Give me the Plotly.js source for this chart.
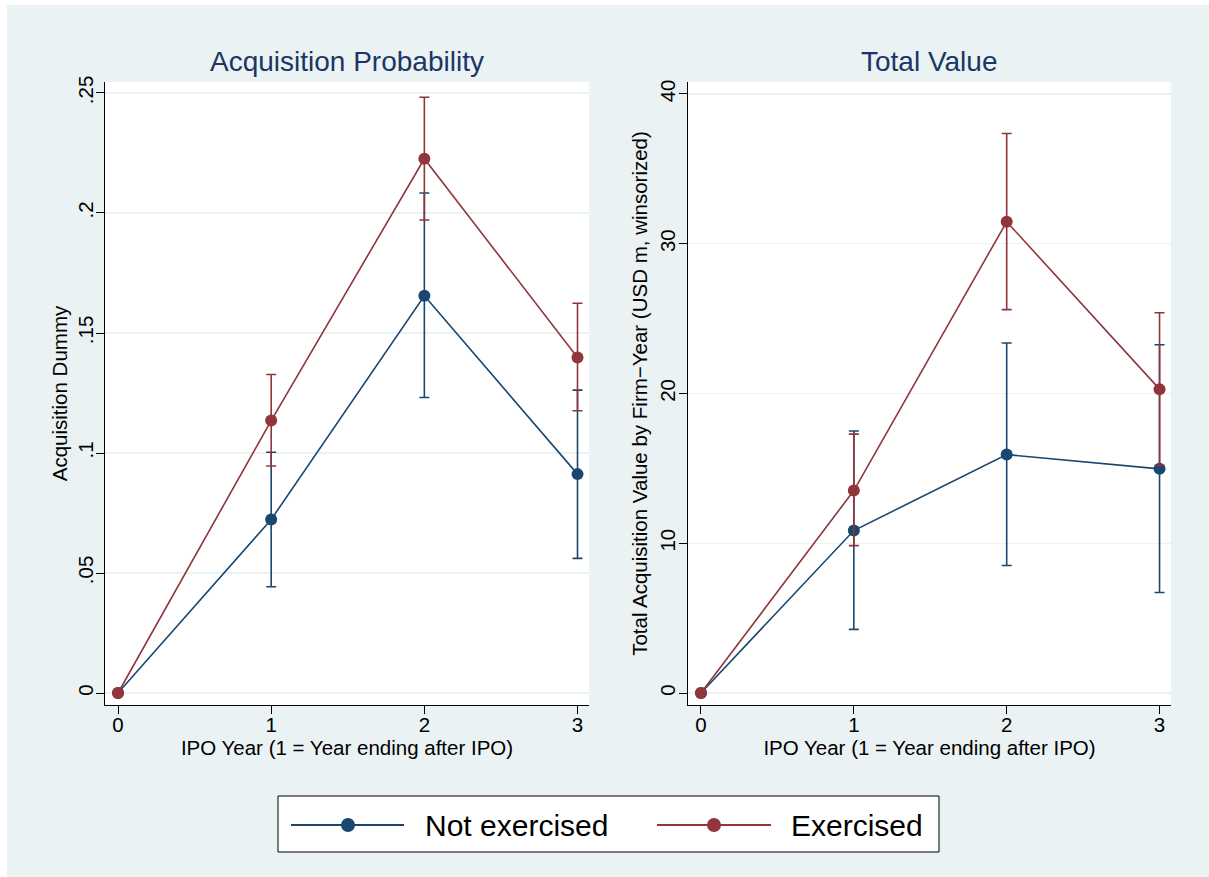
<!DOCTYPE html>
<html>
<head>
<meta charset="utf-8">
<script src="https://cdn.plot.ly/plotly-3.0.1.min.js"></script>
<style>html,body{margin:0;padding:0;background:#fff;}#chart{width:1209px;height:877px;}</style>
</head>
<body>
<div id="chart"></div>
<script>
// ---- data ----
var years = [0, 1, 2, 3];
var xTickLabels = ['0', '1', '2', '3'];
var seriesNames = ['Not exercised', 'Exercised'];

// Panel 1: Acquisition Probability
var probNotEx = [0, 0.0723, 0.1655, 0.0912];
var probNotExUpper = [0, 0.1003, 0.2083, 0.1262];
var probNotExLower = [0, 0.0443, 0.1231, 0.0561];
var probEx = [0, 0.1135, 0.2226, 0.1398];
var probExUpper = [0, 0.1327, 0.2482, 0.1624];
var probExLower = [0, 0.0946, 0.1971, 0.1176];
var probTickVals = [0, 0.05, 0.1, 0.15, 0.2, 0.25];
var probTickText = ['0', '.05', '.1', '.15', '.2', '.25'];

// Panel 2: Total Value
var valNotEx = [0, 10.85, 15.92, 14.97];
var valNotExUpper = [0, 17.5, 23.37, 23.26];
var valNotExLower = [0, 4.25, 8.51, 6.71];
var valEx = [0, 13.52, 31.47, 20.29];
var valExUpper = [0, 17.29, 37.36, 25.39];
var valExLower = [0, 9.84, 25.6, 15.19];
var valTickVals = [0, 10, 20, 30, 40];
var valTickText = ['0', '10', '20', '30', '40'];

// ---- style ----
var W = 1209, H = 877;
var NAVY = '#1a476f', MAROON = '#90353b', BG = '#eaf2f3';
var FONT = 'Liberation Sans, Arial, Helvetica, sans-serif';
function px(x) { return x / W; }
function py(y) { return 1 - y / H; }
function diff(a, b) { return a.map(function (v, i) { return v - b[i]; }); }

function mkTrace(y, up, lo, color, xa, ya, name) {
  return {
    x: years, y: y, type: 'scatter', mode: 'lines+markers', name: name,
    xaxis: xa, yaxis: ya, showlegend: false,
    line: {color: color, width: 1.6},
    marker: {color: color, size: 12, symbol: 'circle'},
    error_y: {type: 'data', symmetric: false, array: diff(up, y), arrayminus: diff(y, lo),
      color: color, thickness: 1.6, width: 5}
  };
}

var traces = [
  mkTrace(probNotEx, probNotExUpper, probNotExLower, NAVY, 'x', 'y', seriesNames[0]),
  mkTrace(probEx, probExUpper, probExLower, MAROON, 'x', 'y', seriesNames[1]),
  mkTrace(valNotEx, valNotExUpper, valNotExLower, NAVY, 'x2', 'y2', seriesNames[0]),
  mkTrace(valEx, valExUpper, valExLower, MAROON, 'x2', 'y2', seriesNames[1])
];

var tickFont = {family: FONT, size: 20.5, color: '#000'};
var axTitleFont = {family: FONT, size: 20.5, color: '#000'};

function xAxis(domain, anchor) {
  return {
    domain: domain, anchor: anchor, range: [-0.085, 3.075],
    tickvals: years, ticktext: xTickLabels, ticks: 'outside', ticklen: 8, tickwidth: 1, tickcolor: '#000',
    showline: true, linecolor: '#000', linewidth: 1, showgrid: false, zeroline: false,
    tickfont: tickFont, ticklabelstandoff: -7,
    title: {text: 'IPO Year (1 = Year ending after IPO)', font: axTitleFont, standoff: 1}
  };
}
function yAxis(domain, anchor, range, tv, tt, title, st, ls) {
  return {
    domain: domain, anchor: anchor, range: range,
    tickvals: tv, ticktext: tt, tickangle: -90, ticks: 'outside', ticklen: 8, tickwidth: 1, tickcolor: '#000',
    showline: true, linecolor: '#000', linewidth: 1, showgrid: true, gridcolor: BG, gridwidth: 1.5,
    zeroline: false, tickfont: tickFont, ticklabelstandoff: ls,
    title: {text: title, font: axTitleFont, standoff: st}
  };
}

var yDom = [py(705), py(82)];
var layout = {
  width: W, height: H,
  margin: {l: 0, r: 0, t: 0, b: 0},
  paper_bgcolor: BG, plot_bgcolor: '#ffffff',
  font: {family: FONT},
  showlegend: false,
  xaxis: xAxis([px(105), px(589)], 'y'),
  yaxis: yAxis(yDom, 'x', [-0.005, 0.25458], probTickVals, probTickText, 'Acquisition Dummy', 0, -5),
  xaxis2: xAxis([px(688), px(1171)], 'y2'),
  yaxis2: yAxis(yDom, 'x2', [-0.80, 40.80], valTickVals, valTickText,
    'Total Acquisition Value by Firm\u2212Year (USD m, winsorized)', 2, -4),
  annotations: [
    {text: 'Acquisition Probability', xref: 'paper', yref: 'paper', x: px(347), y: py(61),
      xanchor: 'center', yanchor: 'middle', showarrow: false, font: {family: FONT, size: 28, color: '#1c3566'}},
    {text: 'Total Value', xref: 'paper', yref: 'paper', x: px(929), y: py(61),
      xanchor: 'center', yanchor: 'middle', showarrow: false, font: {family: FONT, size: 28, color: '#1c3566'}},
    {text: seriesNames[0], xref: 'paper', yref: 'paper', x: px(423), y: py(825),
      xanchor: 'left', yanchor: 'middle', showarrow: false, font: {family: FONT, size: 30, color: '#000'}},
    {text: seriesNames[1], xref: 'paper', yref: 'paper', x: px(789), y: py(825),
      xanchor: 'left', yanchor: 'middle', showarrow: false, font: {family: FONT, size: 30, color: '#000'}}
  ],
  shapes: [
    // white outer strips (top/left)
    {type: 'rect', xref: 'paper', yref: 'paper', x0: 0, x1: 1, y0: py(5), y1: 1, fillcolor: '#fff', line: {width: 0}, layer: 'above'},
    {type: 'rect', xref: 'paper', yref: 'paper', x0: 0, x1: px(7), y0: 0, y1: 1, fillcolor: '#fff', line: {width: 0}, layer: 'above'},
    // legend box
    {type: 'rect', xref: 'paper', yref: 'paper', x0: px(278), x1: px(939), y0: py(852), y1: py(796),
      fillcolor: '#fff', line: {color: '#000', width: 1}, layer: 'above'},
    {type: 'line', xref: 'paper', yref: 'paper', x0: px(291), x1: px(404), y0: py(825), y1: py(825),
      line: {color: NAVY, width: 2}, layer: 'above'},
    {type: 'circle', xref: 'paper', yref: 'paper', xsizemode: 'pixel', ysizemode: 'pixel',
      xanchor: px(348), yanchor: py(825), x0: -7, x1: 7, y0: -7, y1: 7,
      fillcolor: NAVY, line: {width: 0}, layer: 'above'},
    {type: 'line', xref: 'paper', yref: 'paper', x0: px(657), x1: px(771), y0: py(825), y1: py(825),
      line: {color: MAROON, width: 2}, layer: 'above'},
    {type: 'circle', xref: 'paper', yref: 'paper', xsizemode: 'pixel', ysizemode: 'pixel',
      xanchor: px(714), yanchor: py(825), x0: -7, x1: 7, y0: -7, y1: 7,
      fillcolor: MAROON, line: {width: 0}, layer: 'above'}
  ]
};

Plotly.newPlot('chart', traces, layout, {staticPlot: true, displayModeBar: false});
</script>
</body>
</html>
